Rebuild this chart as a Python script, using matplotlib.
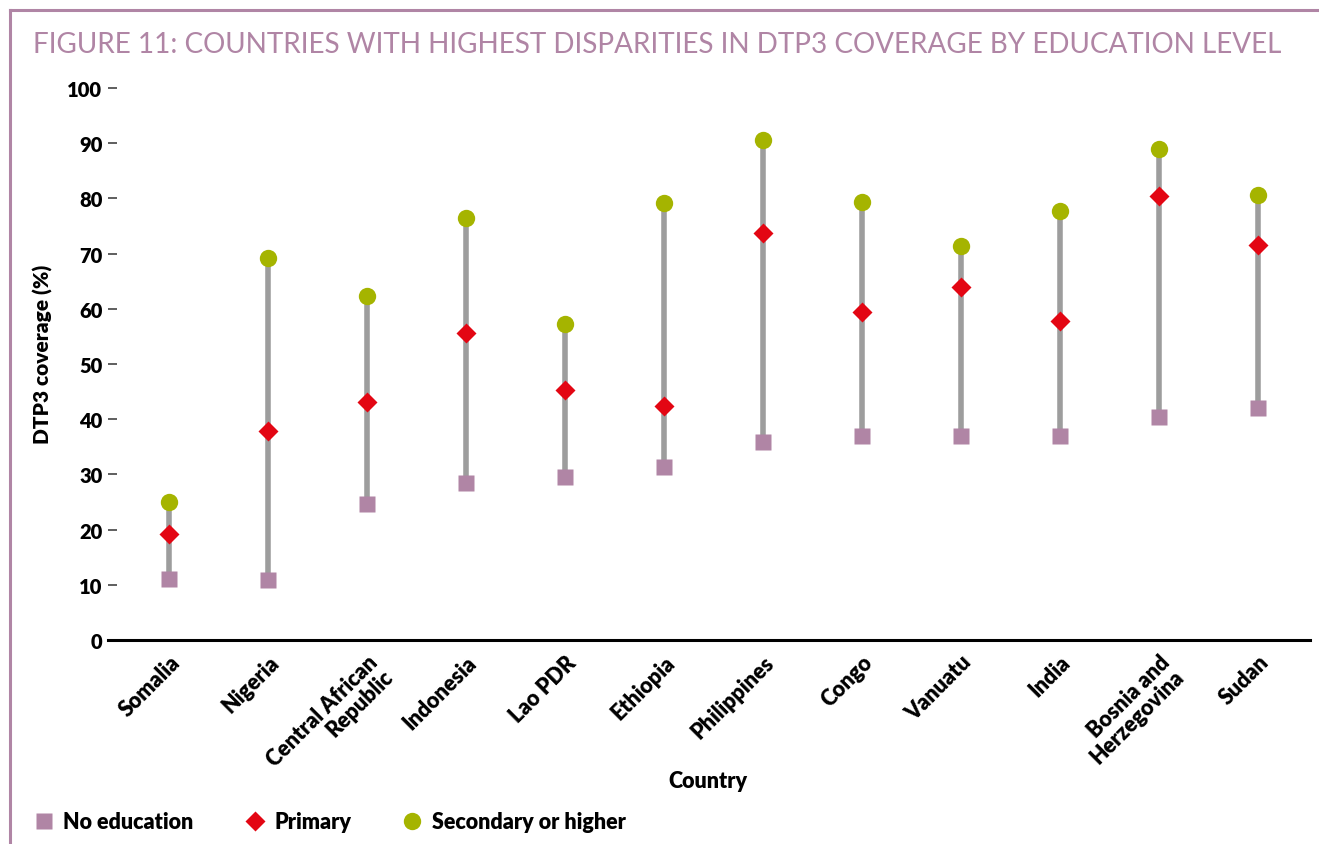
import matplotlib
matplotlib.use("Agg")
import matplotlib.pyplot as plt
from matplotlib.lines import Line2D
import numpy as np

countries = ["Somalia", "Nigeria", "Central African\nRepublic", "Indonesia", "Lao PDR",
             "Ethiopia", "Philippines", "Congo", "Vanuatu", "India",
             "Bosnia and\nHerzegovina", "Sudan"]
no_education = [11.0, 10.9, 24.6, 28.4, 29.5, 31.3, 35.9, 37.0, 37.0, 37.0, 40.4, 42.0]
primary = [19.2, 37.9, 43.1, 55.6, 45.3, 42.4, 73.7, 59.4, 63.9, 57.8, 80.4, 71.6]
secondary = [25.0, 69.2, 62.3, 76.4, 57.2, 79.2, 90.6, 79.3, 71.4, 77.7, 88.9, 80.6]
yticks = [0, 10, 20, 30, 40, 50, 60, 70, 80, 90, 100]

PURPLE = "#b085a5"
RED = "#e30613"
GREY = "#9d9d9d"
GREEN = "#a5b400"
FONT = "Lato"
WT = "heavy"
FS = 15.5

W, H = 1319, 845
fig = plt.figure(figsize=(W / 100, H / 100), dpi=100)
ax = fig.add_axes([108 / W, 1 - 641 / H, (1310 - 108) / W, (641 - 89) / H])

x = np.arange(len(countries))
ax.vlines(x, no_education, secondary, color=GREY, lw=4, zorder=1)
h1, = ax.plot(x, no_education, "s", color=PURPLE, ms=12, mec="none", zorder=3, clip_on=False, label="No education")
h2, = ax.plot(x, primary, "D", color=RED, ms=10, mec="none", zorder=4, clip_on=False, label="Primary")
h3, = ax.plot(x, secondary, "o", color=GREEN, ms=12.5, mec="none", zorder=3, clip_on=False, label="Secondary or higher")

ax.set_xlim(-0.62, 11.53)
ax.set_ylim(0, 100)
for s in ["left", "top", "right"]:
    ax.spines[s].set_visible(False)
ax.spines["bottom"].set_linewidth(2.2)
ax.spines["bottom"].set_color("black")

ax.set_yticks(yticks)
ax.set_yticklabels([str(v) for v in yticks], fontfamily=FONT, fontweight=WT, fontsize=14.5)
ax.tick_params(axis="y", direction="in", length=6.5, width=1.1, color="#333333", pad=4)
ax.set_xticks(x)
ax.set_xticklabels(countries, rotation=45, ha="right", va="top", rotation_mode="anchor",
                   fontfamily=FONT, fontweight=WT, fontsize=FS, linespacing=1.0)
ax.tick_params(axis="x", length=0, pad=8)

ax.set_ylabel("DTP3 coverage (%)", fontfamily=FONT, fontweight=WT, fontsize=15)
ax.yaxis.set_label_coords((53 - 108) / (1310 - 108), 0.52)
fig.text(708 / W, 1 - 782 / H, "Country", ha="center", va="center",
         fontfamily=FONT, fontweight=WT, fontsize=FS)

fig.text(33 / W, 1 - 45 / H, "FIGURE 11: COUNTRIES WITH HIGHEST DISPARITIES IN DTP3 COVERAGE BY EDUCATION LEVEL",
         ha="left", va="center", color=PURPLE, fontfamily=FONT, fontweight="normal", fontsize=20.1)

leg = fig.legend(handles=[h1, h2, h3], loc="center left", bbox_to_anchor=(33 / W, 1 - 823 / H),
                 ncol=3, frameon=False, handlelength=1.0, handletextpad=0.4, columnspacing=2.35,
                 prop={"family": FONT, "weight": WT, "size": FS}, borderaxespad=0, borderpad=0)

fig.add_artist(Line2D([10 / W, 1.0], [1 - 11 / H, 1 - 11 / H], color=PURPLE, lw=2.2, transform=fig.transFigure))
fig.add_artist(Line2D([10 / W, 10 / W], [1 - 11 / H, 0], color=PURPLE, lw=2.2, transform=fig.transFigure))

fig.savefig("out.png", dpi=100)
